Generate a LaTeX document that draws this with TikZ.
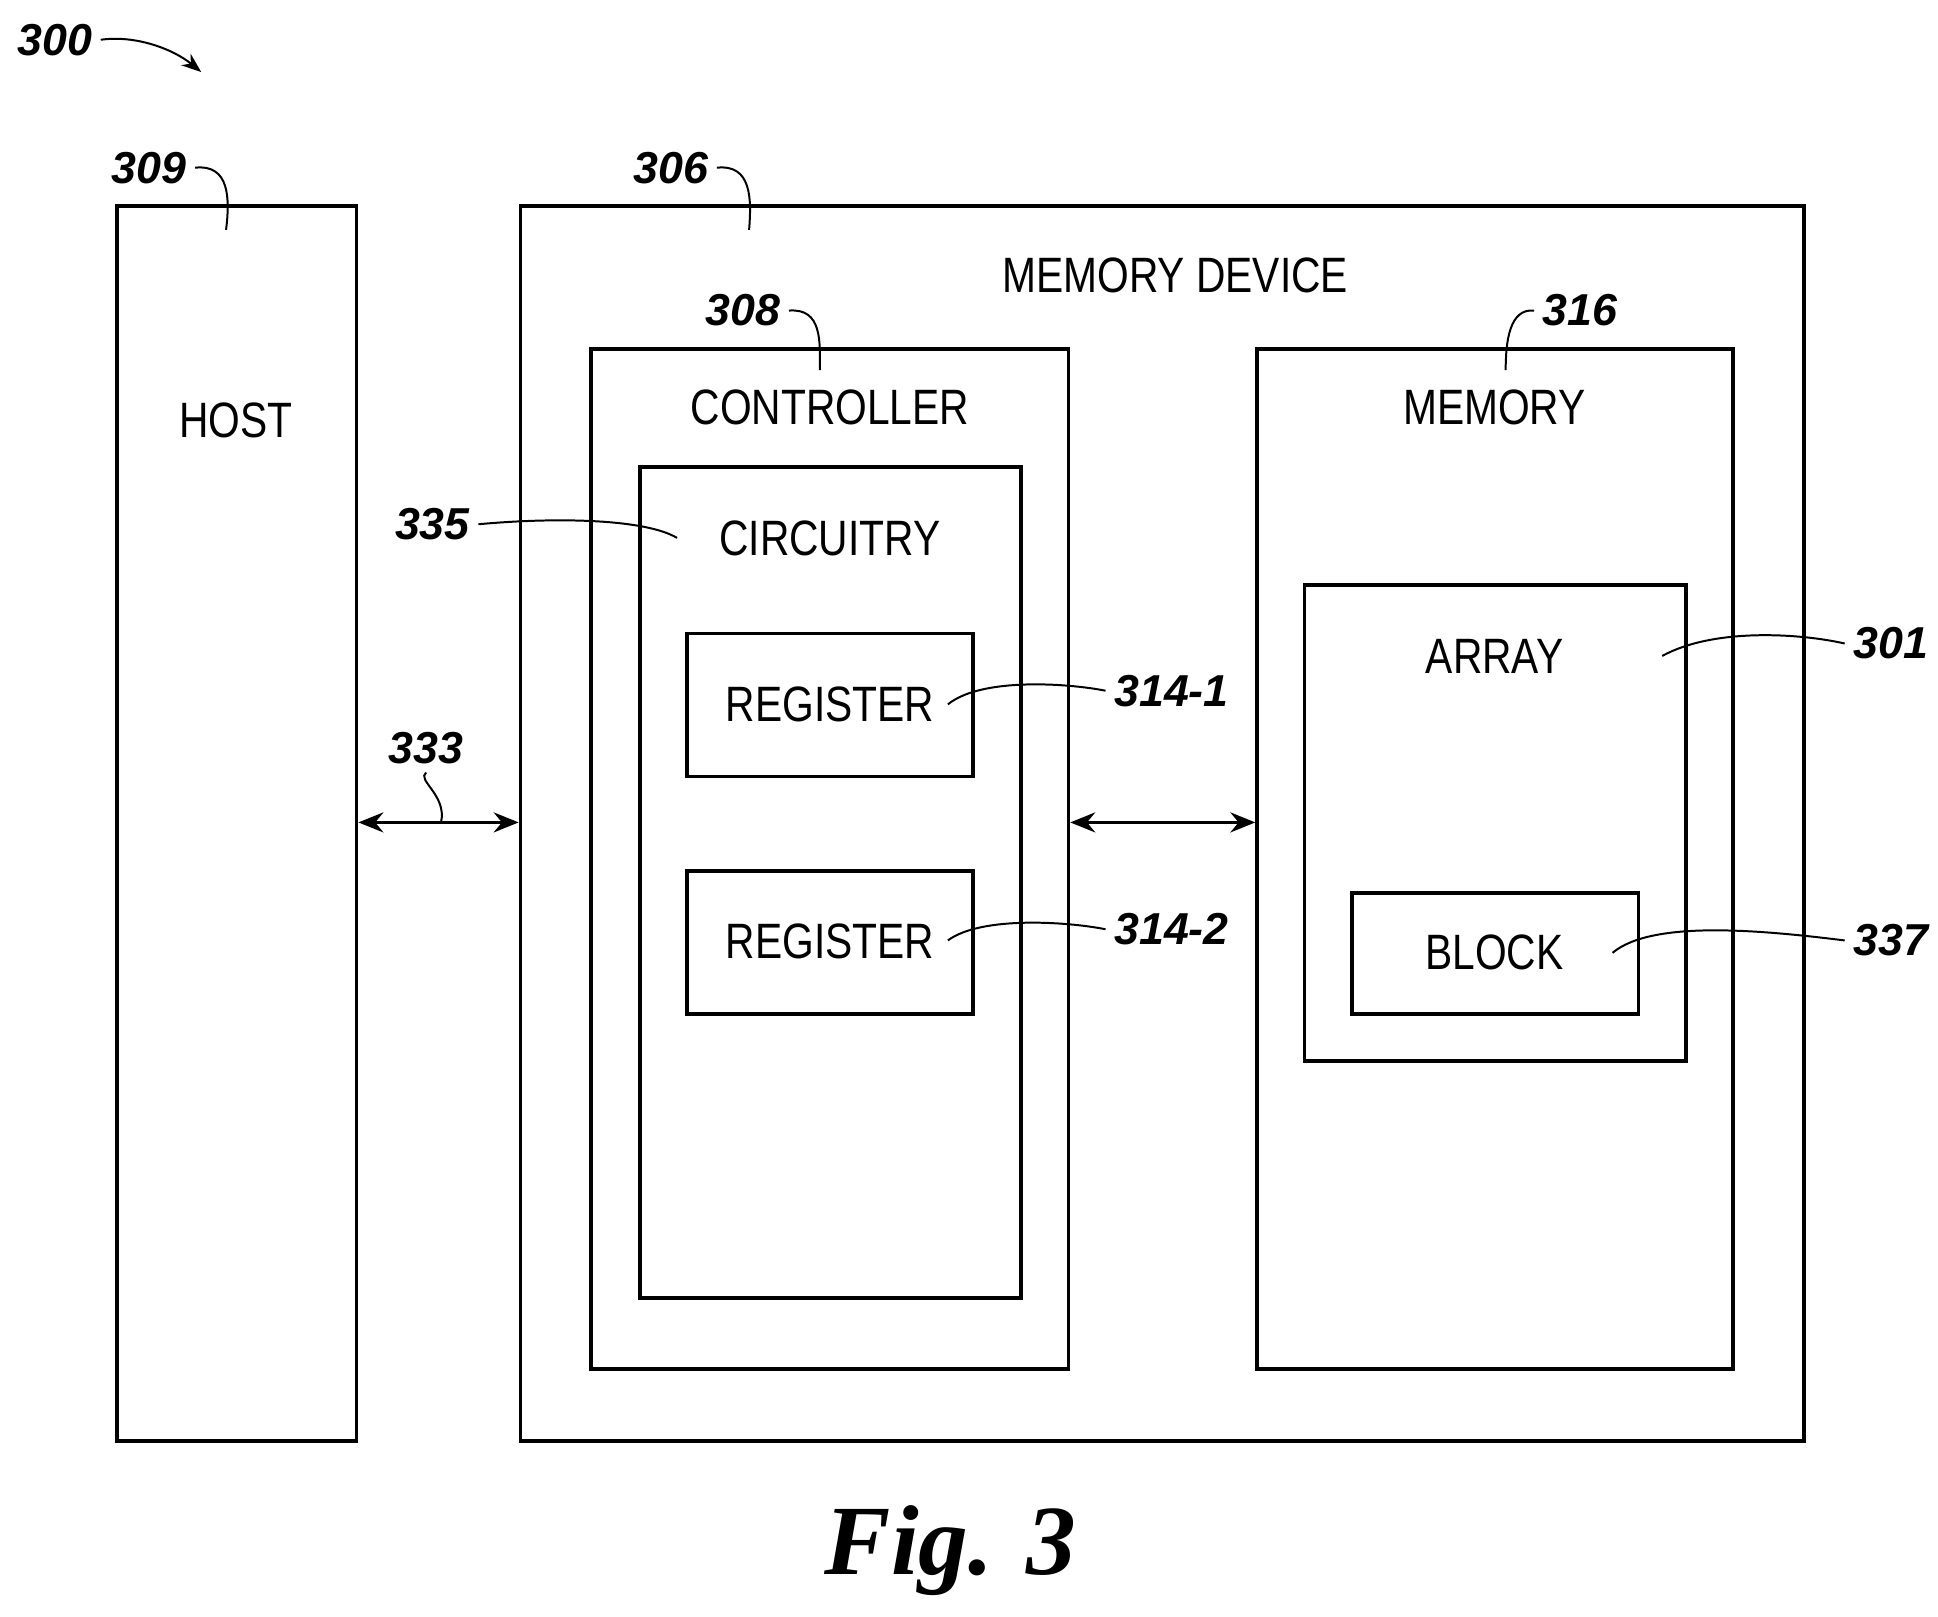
\documentclass[tikz,border=0pt]{standalone}
\usepackage{fontspec}
\setmainfont{Liberation Sans}
\newfontfamily\narrowfont[FakeStretch=0.82]{Liberation Sans}
\newfontfamily\figfont{Liberation Serif}
\usetikzlibrary{arrows.meta}
\begin{document}
\begin{tikzpicture}[x=0.5pt,y=-0.5pt,
  box/.style={draw,line width=1.5pt,inner sep=0pt},
  lbl/.style={font=\fontsize{20}{20}\narrowfont},
  num/.style={font=\fontsize{18}{18}\selectfont\bfseries\itshape},
  lead/.style={line width=0.8pt},
  dbl/.style={line width=1.5pt,{Stealth[length=10pt,width=8pt]}-{Stealth[length=10pt,width=8pt]}}]
\useasboundingbox (0,0) rectangle (1560,1301);
% boxes
\node[box,minimum width=96.5pt,minimum height=497pt] (host) at (190.5,663) {};
\node[box,minimum width=516.5pt,minimum height=497pt] (dev) at (935.5,663) {};
\node[box,minimum width=192pt,minimum height=410.5pt] (ctrl) at (668,691.5) {};
\node[box,minimum width=153.5pt,minimum height=334.5pt] (circ) at (668.5,710.5) {};
\node[box,minimum width=115pt,minimum height=57.5pt] (reg1) at (668,567.5) {};
\node[box,minimum width=115pt,minimum height=57.5pt] (reg2) at (668,758.5) {};
\node[box,minimum width=191.5pt,minimum height=410.5pt] (mem) at (1203.5,691.5) {};
\node[box,minimum width=153.5pt,minimum height=191.5pt] (arr) at (1203.5,662.5) {};
\node[box,minimum width=115.5pt,minimum height=48.5pt] (blk) at (1203.5,767.5) {};
% texts
\node[lbl] (thost) at (190,338) {HOST};
\node[lbl] (tdev) at (946,222) {MEMORY DEVICE};
\node[lbl] (tctrl) at (668,328) {CONTROLLER};
\node[lbl] (tcirc) at (668,433) {CIRCUITRY};
\node[lbl] (treg1) at (668,567) {REGISTER};
\node[lbl] (treg2) at (668,758) {REGISTER};
\node[lbl] (tmem) at (1203,328) {MEMORY};
\node[lbl] (tarr) at (1203,528) {ARRAY};
\node[lbl] (tblk) at (1203,767) {BLOCK};
% connectors
\coordinate (y1) at (0,662);
\draw[dbl] (host.east |- y1) -- (dev.west |- y1);
\draw[dbl] (ctrl.east |- y1) -- (mem.west |- y1);
% reference numerals
\node[num] (n300) at (44,32) {300};
\node[num] (n309) at (120,135) {309};
\node[num] (n306) at (540,135) {306};
\node[num] (n308) at (598,250) {308};
\node[num] (n316) at (1272,250) {316};
\node[num] (n335) at (348,422) {335};
\node[num] (n333) at (343,602) {333};
\node[num] (n3141) at (943,556) {314-1};
\node[num] (n3142) at (943,748) {314-2};
\node[num] (n301) at (1522,518) {301};
\node[num] (n337) at (1522,757) {337};
\coordinate (e300) at (162,58);
\coordinate (e309) at (182,185);
\coordinate (e306) at (603,185);
\coordinate (e308) at (660,298);
\coordinate (e316) at (1212,298);
\coordinate (e335) at (545,433);
\coordinate (e333) at (355,662);
\coordinate (e3141) at (763,567);
\coordinate (e3142) at (763,757);
\coordinate (e301) at (1338,528);
\coordinate (e337) at (1298,767);
\draw[lead,-{Stealth[length=8pt,width=6pt]}] (n300.east) .. controls (110,28) and (140,40) .. (e300);
\draw[lead] (n309.east) .. controls (185,132) and (185,160) .. (e309);
\draw[lead] (n306.east) .. controls (605,132) and (605,160) .. (e306);
\draw[lead] (n308.east) .. controls (662,248) and (660,275) .. (e308);
\draw[lead] (n316.west) .. controls (1215,248) and (1212,275) .. (e316);
\draw[lead] (n335.east) .. controls (450,416) and (520,418) .. (e335);
\draw[lead] (n333.south) .. controls (335,628) and (360,640) .. (e333);
\draw[lead] (n3141.west) .. controls (860,550) and (790,545) .. (e3141);
\draw[lead] (n3142.west) .. controls (860,742) and (790,737) .. (e3142);
\draw[lead] (n301.west) .. controls (1450,510) and (1380,505) .. (e301);
\draw[lead] (n337.west) .. controls (1420,749) and (1330,740) .. (e337);
\node[font=\fontsize{40}{40}\selectfont\figfont\bfseries\itshape] (fig) at (765,1248) {Fig. 3};
\end{tikzpicture}
\end{document}
